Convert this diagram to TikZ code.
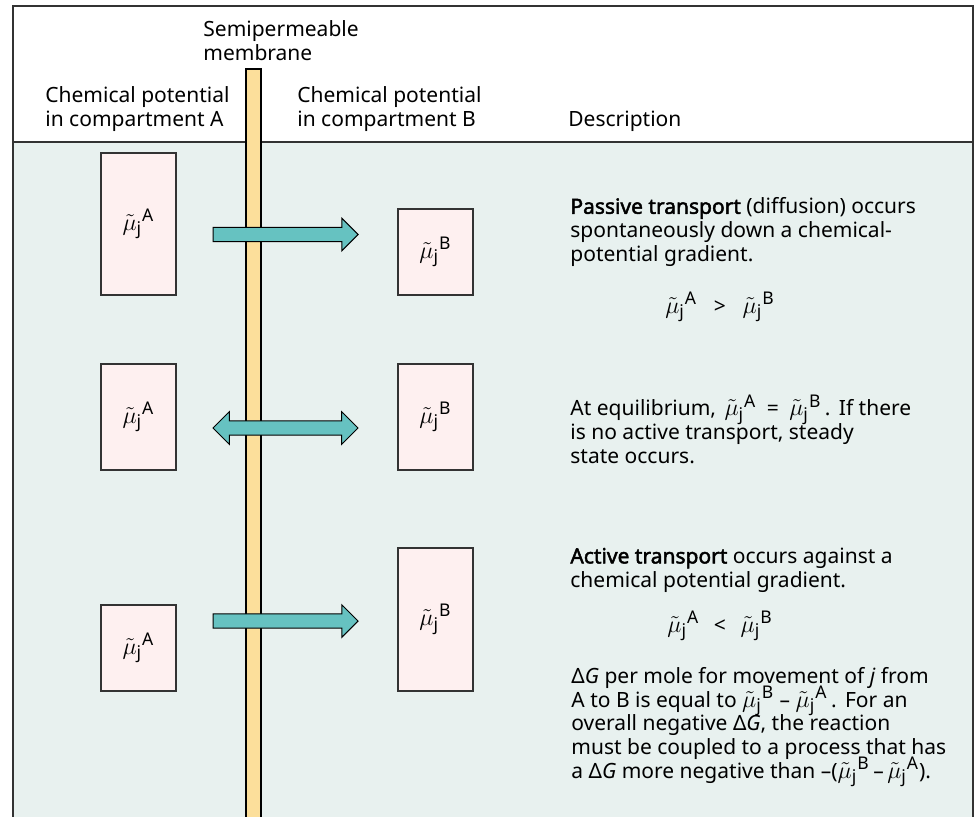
\documentclass[tikz,border=0pt]{standalone}
\usepackage{amsmath}
\usepackage{fontspec}
\setmainfont{Noto Sans}[BoldFont={Noto Sans}, BoldFeatures={FakeBold=2.2}]
\usetikzlibrary{shapes.arrows,positioning}

\definecolor{panelfill}{HTML}{E8F1EF}
\definecolor{potfill}{HTML}{FEF0F0}
\definecolor{membfill}{HTML}{FCDF9B}
\definecolor{flowfill}{HTML}{66C2C1}
\definecolor{edgegray}{HTML}{333333}

\newcommand{\mupot}[1]{{\fontsize{12.5}{13}\selectfont$\tilde{\mu}_{\text{j}}{}^{\text{#1}}$}}
\newcommand{\mutext}[1]{\smash{\mupot{#1}}}

\begin{document}
\begin{tikzpicture}[x=0.5pt, y=-0.5pt, font=\fontsize{10.5}{11.8}\selectfont]
\tikzset{
  potbox/.style={rectangle, draw=edgegray, line width=0.7pt, fill=potfill, minimum width=37.5pt, inner sep=0pt},
  flow/.style={single arrow, draw=black, line width=0.5pt, fill=flowfill, minimum height=72.5pt, inner xsep=0pt, inner ysep=3.3pt, single arrow head extend=4.6pt},
  flowboth/.style={double arrow, draw=black, line width=0.5pt, fill=flowfill, minimum height=72.5pt, inner xsep=0pt, inner ysep=3.3pt, double arrow head extend=4.6pt},
  lbl/.style={anchor=base west, align=left, inner sep=0pt},
  rel/.style={anchor=base, inner sep=0pt},
}
\useasboundingbox (0,0) rectangle (974,816);
\clip (0,0) rectangle (974,816);

% panel and frame
\fill[panelfill] (13,142) rectangle (973,830);
\draw[edgegray, line width=1pt] (13,830) -- (13,6) -- (973,6) -- (973,830);
\draw[edgegray, line width=1pt] (13,142) -- (973,142);

% membrane
\draw[black, line width=0.7pt, fill=membfill] (246,69) rectangle (261,830);

% column heads
\node[lbl] (memb) at (203,60) {Semipermeable\\membrane};
\node[lbl] (headA) at (45,126) {Chemical potential\\in compartment A};
\node[lbl] (headB) at (297,126) {Chemical potential\\in compartment B};
\node[lbl] (headD) at (568,126) {Description};

% passive transport
\node[potbox, minimum height=71pt] (a1) at (138.5,224) {\mupot{A}};
\node[potbox, minimum height=43pt] (b1) at (435.5,252) {\mupot{B}};
\node[flow] (f1) at (282,234.5) {};
\node[lbl] (d1) at (570,261) {\textbf{Passive transport} (diffusion) occurs\\spontaneously down a chemical-\\potential gradient.};
\node[rel] (r1) at (720,313) {\mupot{A}\hspace{0.8em}>\hspace{0.8em}\mupot{B}};

% equilibrium
\node[potbox, minimum height=53pt] (a2) at (138.5,417) {\mupot{A}};
\node[potbox, minimum height=53pt] (b2) at (435.5,417) {\mupot{B}};
\node[flowboth] (f2) at (285.5,428) {};
\node[lbl] (d2) at (570,463) {At equilibrium,\hspace{0.4em}\mutext{A}\hspace{0.5em}=\hspace{0.5em}\mutext{B}\,.\hspace{0.4em}If there\\is no active transport, steady\\state occurs.};

% active transport
\node[potbox, minimum height=43pt] (a3) at (138.5,648) {\mupot{A}};
\node[potbox, minimum height=71.5pt] (b3) at (435.5,619.5) {\mupot{B}};
\node[flow] (f3) at (282,621) {};
\node[lbl] (d3) at (570,587) {\textbf{Active transport} occurs against a\\chemical potential gradient.};
\node[rel] (r3) at (720,632) {\mupot{A}\hspace{0.7em}<\hspace{0.7em}\mupot{B}};
\node[lbl] (g3) at (571,778) {Δ\textit{G} per mole for movement of \textit{j} from\\A to B is equal to \mutext{B} – \mutext{A}\,.\hspace{0.4em}For an\\overall negative Δ\textit{G}, the reaction\\must be coupled to a process that has\\a Δ\textit{G} more negative than –(\mutext{B}\,–\,\mutext{A}).};
\end{tikzpicture}
\end{document}
